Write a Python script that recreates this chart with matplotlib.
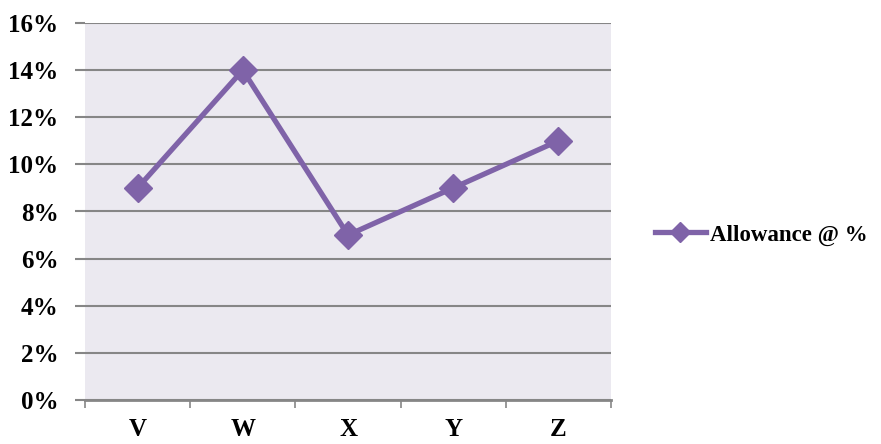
import matplotlib
matplotlib.use("Agg")
import matplotlib.pyplot as plt
from matplotlib.ticker import FixedLocator, PercentFormatter

categories = ["V", "W", "X", "Y", "Z"]
allowance = [9, 14, 7, 9, 11]
series_name = "Allowance @ %"

plt.rcParams['font.family'] = ['Liberation Serif', 'DejaVu Serif']
plt.rcParams['font.weight'] = 'bold'

fig = plt.figure(figsize=(8.81, 4.44), dpi=100)
ax = fig.add_axes([85/881, 44/444, (611-85)/881, (400-23)/444])
ax.set_facecolor('#EBE9F0')

x = list(range(len(categories)))
line_color = '#7F63A8'
ax.plot(x, allowance, color=line_color, lw=3.8, marker='D', ms=14,
        markerfacecolor=line_color, markeredgecolor=line_color, label=series_name,
        zorder=3)

ax.set_xlim(-0.5, len(categories) - 0.5)
ax.set_ylim(0, 16)
ax.set_yticks(range(0, 17, 2))
ax.yaxis.set_major_formatter(PercentFormatter(decimals=0))
ax.grid(axis='y', color='#868686', lw=1.5)
ax.set_axisbelow(True)

ax.set_xticks(x)
ax.set_xticklabels(categories)
ax.xaxis.set_minor_locator(FixedLocator([i + 0.5 for i in range(-1, len(categories))]))
ax.tick_params(axis='x', which='major', length=0, pad=13, labelsize=18)
ax.tick_params(axis='x', which='minor', length=6, width=1.2, color='#868686', direction='out')
ax.tick_params(axis='y', length=7, width=1.5, color='#868686', pad=12, labelsize=18)

for s in ['top', 'right', 'left']:
    ax.spines[s].set_visible(False)
ax.spines['bottom'].set_color('#868686')
ax.spines['bottom'].set_linewidth(2)

for lbl in ax.get_xticklabels() + ax.get_yticklabels():
    lbl.set_fontweight('bold')

leg = fig.legend(loc='center left', bbox_to_anchor=(646/881, 1 - 235/444), frameon=False,
                 prop={'size': 16.5, 'weight': 'bold'}, handlelength=2.2, handletextpad=0.2,
                 borderaxespad=0, markerscale=0.75)

fig.savefig('out.png', dpi=100)
